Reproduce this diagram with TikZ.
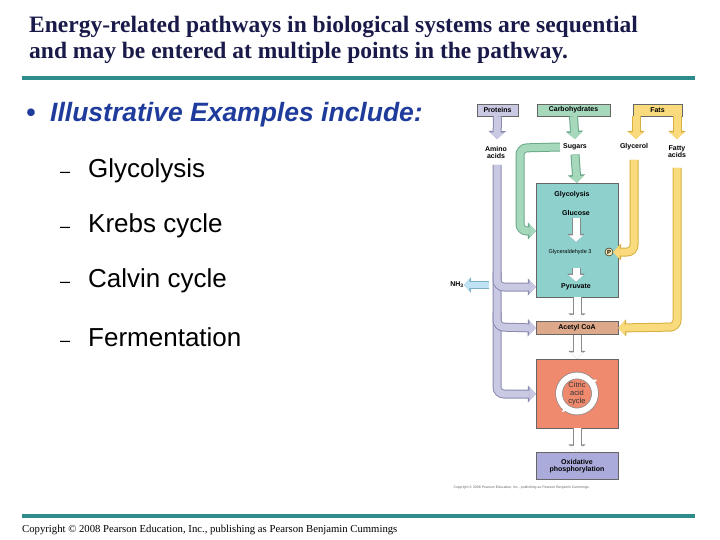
\documentclass[tikz,border=0pt]{standalone}
\usepackage{fontspec}
\setmainfont{Liberation Serif}
\setsansfont{Liberation Sans}
\usetikzlibrary{arrows.meta,calc}
\definecolor{navy}{HTML}{1A1A4A}
\definecolor{teal}{HTML}{2E8C8C}
\definecolor{bulletblue}{HTML}{1F3C9C}
\definecolor{lav}{HTML}{C9C9E4}\definecolor{lavout}{HTML}{8A8AB0}
\definecolor{grn}{HTML}{A6D8BC}\definecolor{grnout}{HTML}{6AA88A}
\definecolor{yel}{HTML}{F9DA7C}\definecolor{yelout}{HTML}{D8B040}
\definecolor{glyc}{HTML}{8ED0CC}
\definecolor{acet}{HTML}{DDA98A}
\definecolor{cit}{HTML}{F08A6E}
\definecolor{oxi}{HTML}{ABABDB}
\definecolor{nh}{HTML}{BFE3F4}\definecolor{nhout}{HTML}{7AAFC8}
\definecolor{wht}{HTML}{FFFFFF}\definecolor{whtout}{HTML}{8A8A8A}
\newcommand\band[3]{%
 \draw[#1out,line width=#2+2,rounded corners=7,-{Triangle[width=#2*2+3,length=#2+1]}] #3;
 \draw[#1,line width=#2,rounded corners=7,-{Triangle[width=#2*2,length=#2-0.5]}] #3;}
\tikzset{
 box/.style={draw=black!60,line width=0.5,minimum height=12,inner sep=1,font=\sffamily\bfseries\fontsize{7}{7.5}\selectfont},
 lbl/.style={font=\sffamily\bfseries\fontsize{7}{7}\selectfont,align=center,inner sep=0},
 item/.style={anchor=west,font=\sffamily\fontsize{26}{28}\selectfont}
}
\begin{document}
\begin{tikzpicture}[x=1pt,y=-1pt]
\useasboundingbox (0,0) rectangle (720,540);
\node[anchor=west,text=navy,font=\bfseries\fontsize{23.5}{26}\selectfont,align=left,inner sep=0] (title) at (29,40)
 {Energy-related pathways in biological systems are sequential\\and may be entered at multiple points in the pathway.};
\draw[teal,line width=3.5] (22,78) coordinate (l1) -- (695,78) coordinate (l2);
\draw[teal,line width=3.5] (22,516) coordinate (l3) -- (695,516) coordinate (l4);
\node[anchor=west,text=bulletblue,font=\sffamily\bfseries\itshape\fontsize{26.5}{28}\selectfont,inner sep=0] (bul) at (26,115) {•\ \ Illustrative Examples include:};
\foreach \t/\y/\n in {Glycolysis/171/a,Krebs cycle/226/b,Calvin cycle/281/c,Fermentation/337/d}
 \node[item,inner sep=0] (it\n) at (60,\y) {\fontsize{18}{18}\selectfont –\hspace{18pt}\fontsize{26}{28}\selectfont\t};
\node[anchor=west,font=\fontsize{10.7}{12}\selectfont,inner sep=0] (copy) at (22,530) {Copyright © 2008 Pearson Education, Inc., publishing as Pearson Benjamin Cummings};
% boxes
\node[box,fill=lav,minimum width=41] (prot) at (497.5,110) {Proteins};
\node[box,fill=grn,minimum width=73] (carb) at (573.5,110) {Carbohydrates};
\node[box,fill=yel,minimum width=49] (fats) at (657.5,110) {Fats};
\node[lbl] (amino) at (496,152) {Amino\\acids};
\node[lbl] (sug) at (575,147) {Sugars};
\node[lbl] (glyc) at (634,147) {Glycerol};
\node[lbl] (fatty) at (677,152) {Fatty\\acids};
\node[draw=black!60,fill=glyc,minimum width=82,minimum height=114,inner sep=0] (gbox) at (577,240) {};
\node[lbl] (gt) at (572,195) {Glycolysis};
\node[lbl] (glu) at (576,213) {Glucose};
\node[lbl,font=\sffamily\fontsize{5.5}{5.5}\selectfont] (g3p) at (570,252) {Glyceraldehyde 3};
\node[circle,draw=black,fill=yel!60,inner sep=0.5,minimum size=8,font=\sffamily\bfseries\fontsize{6}{6}\selectfont] (pp) at (609,252) {P};
\node[lbl] (pyr) at (576,287) {Pyruvate};
\node[box,fill=acet,minimum width=82,minimum height=13] (acet) at (577,328) {Acetyl CoA};
\node[draw=black!60,fill=cit,minimum width=82,minimum height=69,inner sep=0] (cbox) at (577,393.5) {};
\node[box,fill=oxi,minimum width=82,minimum height=27,align=center] (oxi) at (577,466) {Oxidative\\phosphorylation};
\node[lbl] (nh3) at (457,285) {NH\textsubscript{3}};
\node[anchor=west,font=\sffamily\fontsize{3.5}{4}\selectfont,text=black!60] (cpy2) at (450,488) {Copyright © 2008 Pearson Education, Inc., publishing as Pearson Benjamin Cummings.};
% bands
\band{lav}{7}{(prot.south) -- (497,139)}
\band{grn}{7}{(carb.south) -- (575,139)}
\band{yel}{7}{(fats.south -| 636,0) -- (636,139)}
\band{yel}{7}{(fats.south -| 677,0) -- (677,139)}
\band{grn}{7}{(sug.south) ++(0,4) -- (gbox.north)}
\band{grn}{7}{(sug.west) ++(-3,0) -- (520,148) -- (520,231) -- (gbox.west |- 0,231)}
\band{yel}{7}{(634,160) -- (634,252) -- (pp.east)}
\band{yel}{7}{(677,168) -- (677,327) -- (acet.east)}
\band{lav}{7}{(497,165) -- (497,394) -- (cbox.west |- 0,394)}
\band{lav}{7}{(497,272) -- (497,287) -- (gbox.west |- 0,287)}
\band{lav}{7}{(497,312) -- (497,327) -- (acet.west)}
\band{nh}{6}{(489,285) -- (nh3.east)}
\band{wht}{7}{(glu.south) ++(0,2) -- ++(0,24)}
\band{wht}{7}{(pyr.north) ++(0,-16) -- ++(0,14)}
\band{wht}{7}{(gbox.south) -- (acet.north)}
\band{wht}{7}{(acet.south) -- (cbox.north)}
\band{wht}{7}{(cbox.south) -- (oxi.north)}
% cycle
\draw[whtout,line width=7.5] (cbox.center) circle (18);
\draw[white,line width=6] (cbox.center) circle (18);
\draw[white,line width=1,-{Triangle[width=7,length=4]}] ($(cbox.center)+(-20,0)$) arc (180:120:20) coordinate(ca);
\draw[white,line width=1,-{Triangle[width=7,length=4]}] ($(cbox.center)+(20,-5)$) arc (-15:-45:20) coordinate(cb);
\node[lbl,font=\sffamily\fontsize{7.5}{8}\selectfont,text=black!80] (ct) at (cbox.center) {Citric\\acid\\cycle};
\end{tikzpicture}
\end{document}
